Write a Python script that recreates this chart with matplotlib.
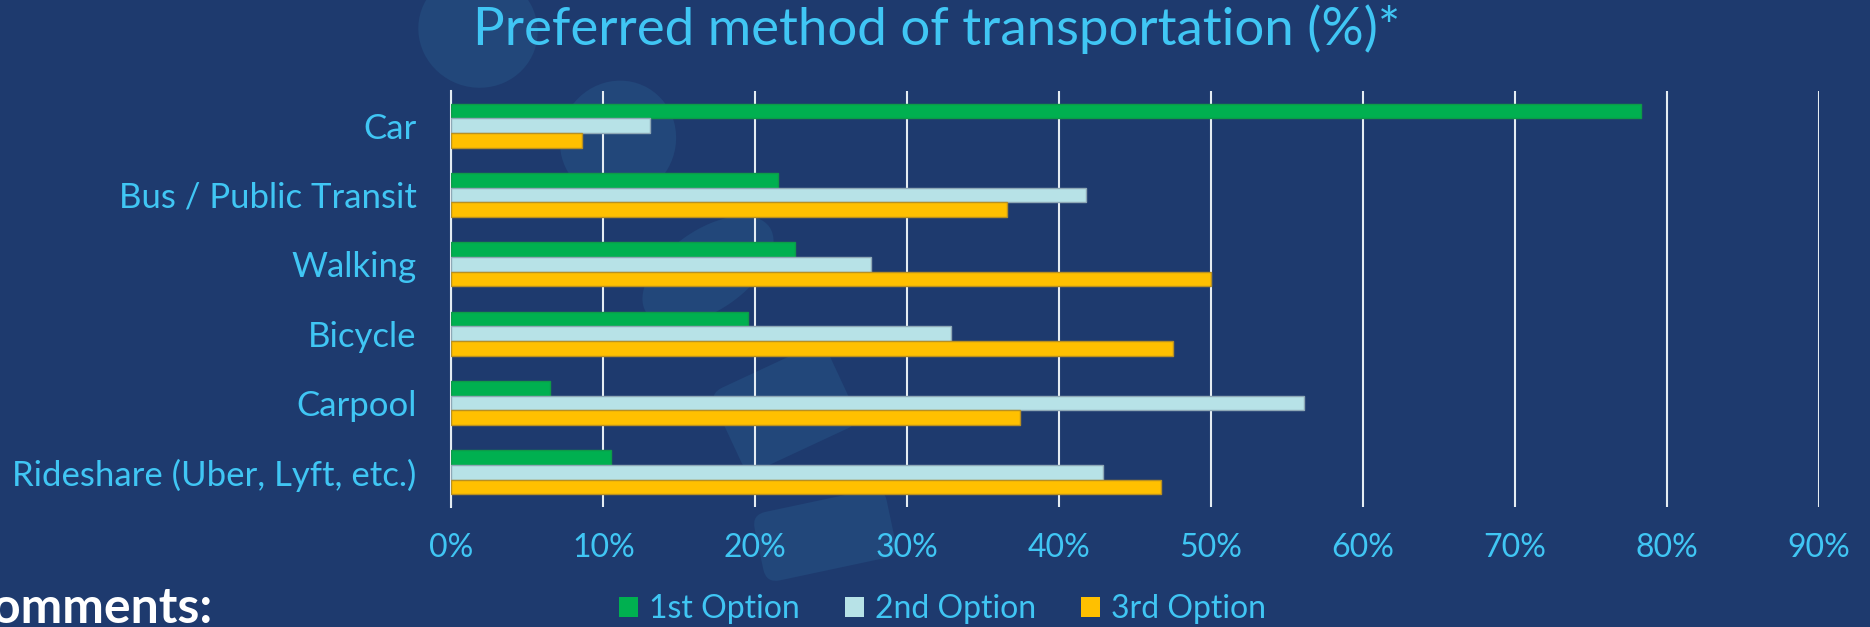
import matplotlib
matplotlib.use('Agg')
import numpy as np
import matplotlib.pyplot as plt
from matplotlib.patches import Ellipse, FancyBboxPatch
from matplotlib.transforms import Affine2D, IdentityTransform

# data (percent)
categories = ['Car', 'Bus / Public Transit', 'Walking', 'Bicycle', 'Carpool',
              'Rideshare (Uber, Lyft, etc.)']
first_option = [78.3, 21.5, 22.6, 19.5, 6.5, 10.5]
second_option = [13.1, 41.8, 27.6, 32.9, 56.1, 42.9]
third_option = [8.6, 36.6, 50.0, 47.5, 37.4, 46.7]
series_names = ['1st Option', '2nd Option', '3rd Option']
x_ticks = [0, 10, 20, 30, 40, 50, 60, 70, 80, 90]

bg = '#1E3A6E'
txt = '#40C6F4'
grid_col = '#E4ECF2'
colors = ['#00B050', '#B7E2E7', '#FFC000']
edges = ['#0E9A48', '#8EA8B6', '#B89022']

font = 'Lato'

fig = plt.figure(figsize=(18.7, 6.27), dpi=100, facecolor=bg)

# faint decorative shapes in the background (pixel coords, origin bottom-left)
H = 627
blob = '#22477A'
shapes = [
    Ellipse((478, H - 30), 120, 115, angle=-20),
    Ellipse((618, H - 140), 120, 115, angle=60),
    Ellipse((708, H - 270), 150, 80, angle=35),
]
for s in shapes:
    s.set_facecolor(blob)
    s.set_edgecolor('none')
    s.set_transform(IdentityTransform())
    s.set_zorder(0)
    fig.add_artist(s)

for (cx, cy, w, h, ang) in [(785, H - 408, 125, 90, 25), (825, H - 535, 135, 70, 12)]:
    r = FancyBboxPatch((cx - w / 2, cy - h / 2), w, h,
                       boxstyle='round,pad=0,rounding_size=14',
                       facecolor=blob, edgecolor='none', zorder=0)
    r.set_transform(Affine2D().rotate_deg_around(cx, cy, ang) + IdentityTransform())
    fig.add_artist(r)

ax = fig.add_axes([0.2414, 0.1914, 0.9726 - 0.2414, 0.8549 - 0.1914])
ax.set_facecolor('none')

y = np.arange(len(categories))
h = 0.212
for k, vals in enumerate([first_option, second_option, third_option]):
    ax.barh(y + (k - 1) * h, vals, height=h, color=colors[k],
            edgecolor=edges[k], linewidth=1.0, label=series_names[k], zorder=3)

ax.set_ylim(len(categories) - 0.5, -0.5)
ax.set_xlim(0, 90)
ax.set_xticks(x_ticks)
ax.set_xticklabels([f'{t}%' for t in x_ticks])
ax.set_yticks(y)
ax.set_yticklabels(categories)
ax.tick_params(axis='both', length=0, colors=txt)
ax.tick_params(axis='x', pad=19, labelsize=23)
ax.tick_params(axis='y', pad=25, labelsize=25)
for lab in ax.get_xticklabels() + ax.get_yticklabels():
    lab.set_family(font)

ax.grid(axis='x', color=grid_col, linewidth=1.5)
ax.grid(axis='y', visible=False)
ax.set_axisbelow(True)
for side in ['top', 'right', 'bottom']:
    ax.spines[side].set_visible(False)
ax.spines['left'].set_color(grid_col)
ax.spines['left'].set_linewidth(1.5)

fig.text(0.501, 1 - 45 / H, 'Preferred method of transportation (%)*', ha='center',
         va='baseline', color=txt, fontsize=38, family=font)

leg = fig.legend(loc='center', bbox_to_anchor=(0.504, 1 - 609 / H), ncol=3,
                 frameon=False, handlelength=0.6, handleheight=0.6,
                 handletextpad=0.35, columnspacing=1.4,
                 prop={'family': font, 'size': 23})
for t in leg.get_texts():
    t.set_color(txt)
for p in leg.get_patches():
    p.set_edgecolor('none')

# slide text partly off the left/bottom edge, as in the reference
fig.text(212 / 1870, 4 / H, 'Comments:', ha='right', va='baseline', color='white',
         fontsize=36, family=font, weight='bold')

fig.savefig('out.png', dpi=100, facecolor=bg)
